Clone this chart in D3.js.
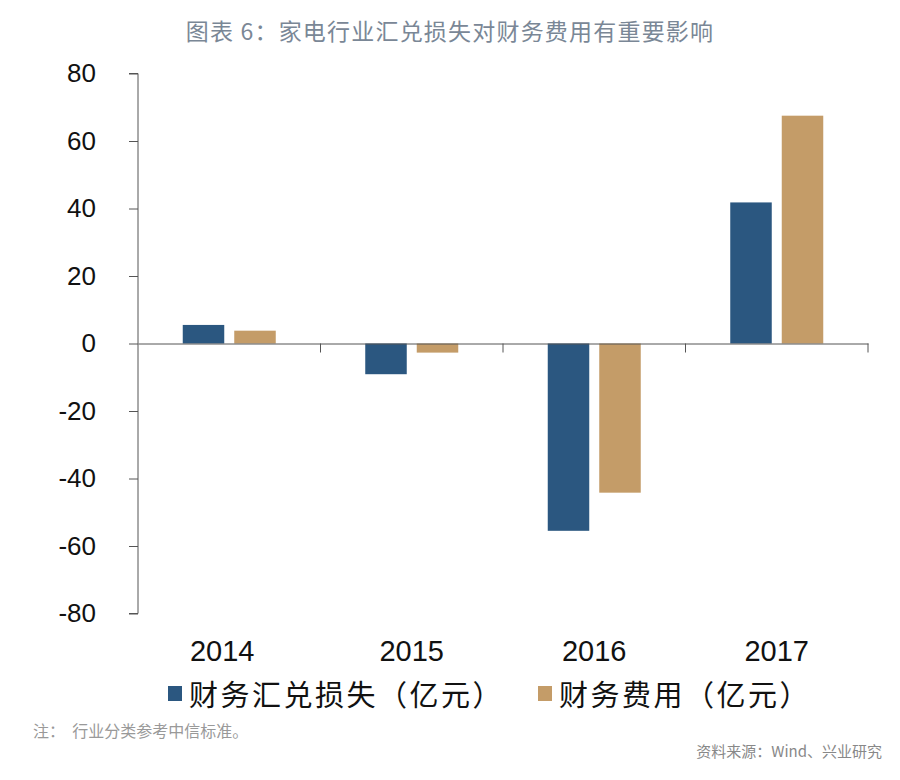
<!DOCTYPE html>
<html><head><meta charset="utf-8">
<script src="https://cdn.jsdelivr.net/npm/d3@7"></script>
<style>body{margin:0;background:#fff}svg{display:block}</style>
</head><body>
<script>
const categories = ["2014","2015","2016","2017"];
const seriesNames = ["财务汇兑损失（亿元）","财务费用（亿元）"];
const fxLoss = [5.5, -9.1, -55.5, 41.8];
const finCost = [3.8, -2.7, -44.2, 67.5];
const yTicks = [80,60,40,20,0,-20,-40,-60,-80];
const colors = ["#2b5780","#c49c68"];

const W=900,H=780;
const svg=d3.select("body").append("svg").attr("width",W).attr("height",H);
const x=d3.scaleBand().domain(categories).range([138,868]);
const y=d3.scaleLinear().domain([-80,80]).range([613.5,73.5]);

svg.append("text").attr("x",450).attr("y",40).attr("text-anchor","middle")
  .attr("font-family","Noto Sans CJK SC").attr("font-size",23).attr("letter-spacing",1.2).attr("fill","#7a8796")
  .text("图表 6：家电行业汇兑损失对财务费用有重要影响");

// y axis
const ya=svg.append("g").attr("transform","translate(138,0)")
  .call(d3.axisLeft(y).tickValues(yTicks).tickSize(9).tickPadding(33).tickFormat(d=>String(d)));
ya.select(".domain").attr("stroke","#555").attr("d","M-9,"+y(80)+"H0V"+y(-80)+"H-9");
ya.selectAll(".tick line").attr("stroke","#555");
ya.selectAll("text").attr("font-family","Liberation Sans, Arial").attr("font-size",26).attr("fill","#111");

// bars
const data=categories.map((c,i)=>({c,v:[fxLoss[i],finCost[i]]}));
const g=svg.append("g");
data.forEach(d=>{
  d.v.forEach((v,j)=>{
    const cx=x(d.c)+x.bandwidth()/2;
    const x0 = j===0 ? cx-46.5 : cx+5;
    g.append("rect").attr("x",x0).attr("width",41.5)
     .attr("y",y(Math.max(0,v))).attr("height",Math.abs(y(v)-y(0)))
     .attr("fill",colors[j]);
  });
});

// x axis at zero
const xa=svg.append("g").attr("transform","translate(0,"+y(0)+")")
  .call(d3.axisBottom(x).tickSize(0).tickFormat(""));
xa.select(".domain").attr("stroke","#555");
svg.append("g").selectAll("line").data(categories.slice(1).concat(["end"])).join("line")
  .attr("x1",d=>d==="end"?868:x(d)).attr("x2",d=>d==="end"?868:x(d))
  .attr("y1",y(0)).attr("y2",y(0)+9).attr("stroke","#555");

// category labels
svg.append("g").selectAll("text").data(categories).join("text")
  .attr("x",d=>x(d)+x.bandwidth()/2+(d==="2014"?-7:0)).attr("y",661).attr("text-anchor","middle")
  .attr("font-family","Liberation Sans Narrow, Liberation Sans, Arial").attr("font-size",29).attr("fill","#111")
  .text(d=>d);

// legend
const leg=[{x:168,t:seriesNames[0],c:colors[0]},{x:538,t:seriesNames[1],c:colors[1]}];
leg.forEach(l=>{
  svg.append("rect").attr("x",l.x).attr("y",686).attr("width",14).attr("height",15).attr("fill",l.c);
  svg.append("text").attr("x",l.x+21).attr("y",706).attr("font-family","Noto Sans CJK SC")
    .attr("font-size",29).attr("letter-spacing",2.5).attr("fill","#111").text(l.t);
});

svg.append("text").attr("x",33).attr("y",737).attr("font-family","Noto Sans CJK SC")
  .attr("font-size",16).attr("fill","#999").attr("xml:space","preserve").text("注：  行业分类参考中信标准。");
svg.append("text").attr("x",882).attr("y",757).attr("text-anchor","end").attr("font-family","Noto Sans CJK SC")
  .attr("font-size",15).attr("fill","#888").text("资料来源：Wind、兴业研究");
</script>
</body></html>
